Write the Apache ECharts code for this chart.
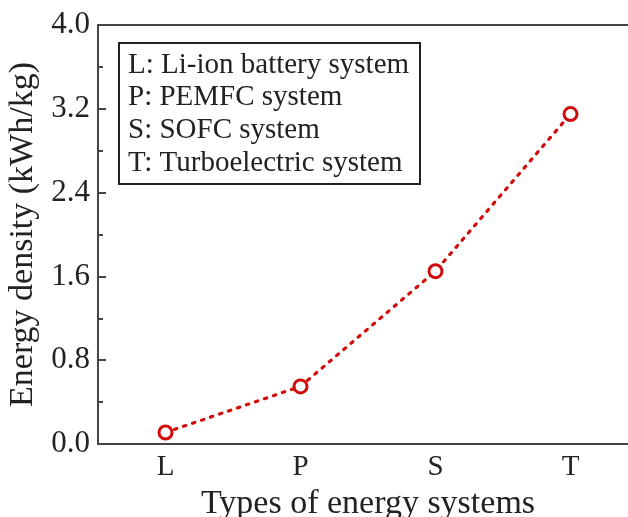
<!DOCTYPE html>
<html>
<head>
<meta charset="utf-8">
<script src="https://cdn.jsdelivr.net/npm/echarts@6/dist/echarts.min.js"></script>
<style>html,body{margin:0;padding:0;background:#fff;}#c{width:628px;height:517px;}</style>
</head>
<body>
<div id="c"></div>
<script>
const categories = ['L', 'P', 'S', 'T'];
const energyDensity = [0.11, 0.55, 1.65, 3.15];
const legendLines = ['L: Li-ion battery system', 'P: PEMFC system', 'S: SOFC system', 'T: Turboelectric system'];
const yTicks = { min: 0, max: 4.0, interval: 0.8 };

const font = "'Liberation Serif', 'Times New Roman', serif";
const chart = echarts.init(document.getElementById('c'), null, { renderer: 'canvas' });
chart.setOption({
  animation: false,
  backgroundColor: '#fff',
  grid: { left: 98, top: 25, width: 540, height: 419, outerBoundsMode: 'none', containLabel: false, show: true, borderColor: '#444', borderWidth: 2, backgroundColor: 'transparent' },
  xAxis: {
    type: 'category', data: categories, boundaryGap: true,
    name: 'Types of energy systems', nameLocation: 'middle', nameGap: 36,
    nameTextStyle: { fontFamily: font, fontSize: 34, color: '#222' },
    axisLine: { lineStyle: { color: '#444', width: 2 } },
    axisTick: { inside: true, length: 6, alignWithLabel: true, lineStyle: { color: '#444', width: 2 } },
    axisLabel: { fontFamily: font, fontSize: 29, color: '#222', margin: 9 },
    splitLine: { show: false }
  },
  yAxis: {
    type: 'value', min: yTicks.min, max: yTicks.max, interval: yTicks.interval,
    name: 'Energy density (kWh/kg)', nameLocation: 'middle', nameGap: 56,
    nameTextStyle: { fontFamily: font, fontSize: 34, color: '#222' },
    axisLine: { show: true, lineStyle: { color: '#444', width: 2 } },
    axisTick: { show: true, inside: true, length: 8, lineStyle: { color: '#444', width: 2 } },
    minorTick: { show: true, splitNumber: 2, length: 5, lineStyle: { color: '#444', width: 2 } },
    axisLabel: { fontFamily: font, fontSize: 31, color: '#222', margin: 8, formatter: v => v.toFixed(1) },
    splitLine: { show: false }
  },
  series: [{
    type: 'line', data: energyDensity,
    symbol: 'circle', symbolSize: 13,
    itemStyle: { color: '#fff', borderColor: '#d10a0a', borderWidth: 3 },
    lineStyle: { color: '#d10a0a', width: 3.2, type: [2.5, 7], cap: 'round' }
  }],
  graphic: [{
    type: 'group', left: 118, top: 42,
    children: [
      { type: 'rect', shape: { x: 0, y: 0, width: 301, height: 141 }, style: { fill: '#fff', stroke: '#222', lineWidth: 2 } }
    ].concat(legendLines.map((t, i) => ({
      type: 'text', x: 9, y: 22 + i * 32.7,
      style: { text: t, font: "29px 'Liberation Serif', 'Times New Roman', serif", fill: '#222', verticalAlign: 'middle' }
    })))
  }]
});
</script>
</body>
</html>
